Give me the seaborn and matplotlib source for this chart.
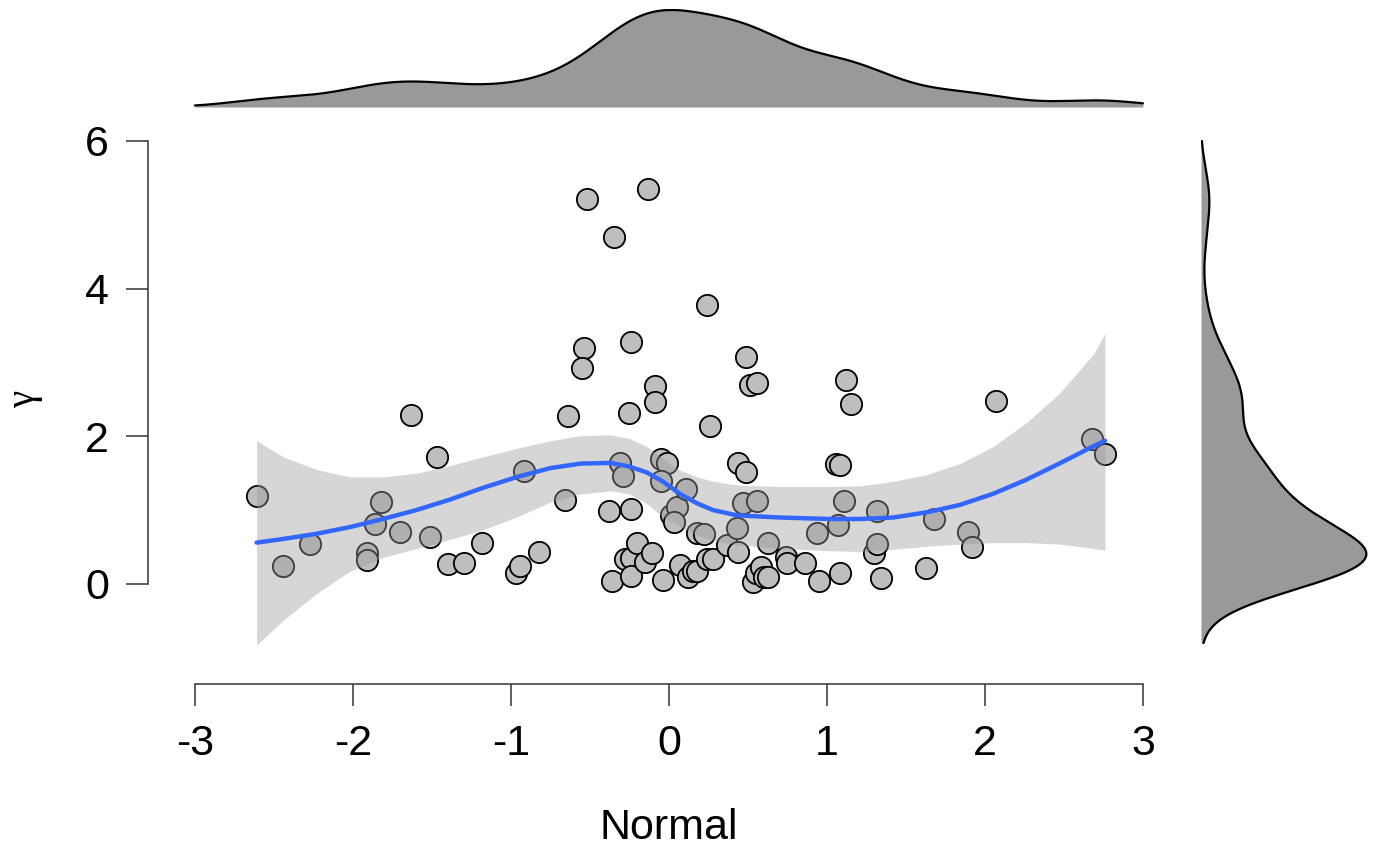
import numpy as np
import pandas as pd
import matplotlib
matplotlib.use("Agg")
import matplotlib.pyplot as plt
import seaborn as sns

# scatter points
normal = [-2.61, -2.44, -2.27, -1.86, -1.82, -1.91, -1.91, -1.70, -1.63, -1.51,
          -1.47, -1.40, -1.30, -1.18, -0.97, -0.94, -0.92, -0.82, -0.66, -0.64,
          -0.52, -0.54, -0.55, -0.35, -0.13, -0.24, -0.38, -0.31, -0.29, -0.25,
          -0.24, -0.36, -0.28, -0.24, -0.24, -0.20, -0.15, -0.11, -0.09, -0.09,
          -0.05, -0.01, -0.05, 0.01, 0.05, 0.03, -0.04, 0.07, 0.11, 0.12,
          0.15, 0.18, 0.18, 0.22, 0.24, 0.26, 0.24, 0.28, 0.37, 0.43,
          0.44, 0.44, 0.49, 0.47, 0.56, 0.49, 0.51, 0.56, 0.53, 0.55,
          0.58, 0.60, 0.63, 0.63, 0.74, 0.75, 0.86, 0.94, 0.95, 1.06,
          1.08, 1.07, 1.08, 1.11, 1.12, 1.15, 1.30, 1.32, 1.32, 1.34,
          1.63, 1.68, 1.89, 1.92, 2.07, 2.68, 2.76]
gamma = [1.19, 0.24, 0.54, 0.81, 1.11, 0.42, 0.33, 0.70, 2.29, 0.63,
         1.72, 0.27, 0.28, 0.56, 0.15, 0.24, 1.53, 0.43, 1.14, 2.28,
         5.21, 3.20, 2.93, 4.70, 5.35, 3.28, 0.99, 1.64, 1.46, 2.31,
         1.02, 0.04, 0.34, 0.35, 0.11, 0.56, 0.30, 0.42, 2.68, 2.46,
         1.69, 1.64, 1.40, 0.93, 1.04, 0.84, 0.06, 0.26, 1.29, 0.10,
         0.17, 0.17, 0.69, 0.67, 3.78, 2.14, 0.34, 0.34, 0.53, 0.76,
         0.43, 1.64, 1.51, 1.10, 1.12, 3.07, 2.69, 2.72, 0.03, 0.15,
         0.23, 0.09, 0.10, 0.56, 0.36, 0.29, 0.29, 0.69, 0.04, 1.63,
         1.61, 0.80, 0.15, 1.13, 2.76, 2.44, 0.42, 0.99, 0.54, 0.08,
         0.22, 0.88, 0.71, 0.50, 2.48, 1.96, 1.76]

# smooth fit and its confidence band
fit_x = [-2.61, -2.44, -2.23, -2.02, -1.81, -1.60, -1.39, -1.18, -0.96, -0.75,
         -0.56, -0.37, -0.25, -0.14, -0.04, 0.07, 0.18, 0.28, 0.43, 0.70,
         1.02, 1.21, 1.42, 1.63, 1.84, 2.05, 2.26, 2.47, 2.69, 2.76]
fit_y = [0.56, 0.61, 0.68, 0.77, 0.88, 1.00, 1.14, 1.30, 1.45, 1.57,
         1.63, 1.64, 1.59, 1.51, 1.39, 1.22, 1.09, 1.00, 0.93, 0.90,
         0.88, 0.88, 0.90, 0.97, 1.07, 1.22, 1.41, 1.63, 1.87, 1.94]
fit_lo = [-0.83, -0.49, -0.13, 0.17, 0.36, 0.48, 0.60, 0.73, 0.91, 1.11,
          1.22, 1.26, 1.22, 1.09, 0.91, 0.78, 0.66, 0.59, 0.53, 0.48,
          0.45, 0.44, 0.47, 0.51, 0.54, 0.56, 0.56, 0.54, 0.48, 0.46]
fit_hi = [1.94, 1.72, 1.55, 1.45, 1.45, 1.50, 1.60, 1.72, 1.84, 1.94,
          2.01, 2.02, 1.97, 1.86, 1.70, 1.54, 1.45, 1.39, 1.34, 1.32,
          1.32, 1.33, 1.39, 1.48, 1.63, 1.86, 2.18, 2.58, 3.12, 3.40]

x_ticks = [-3, -2, -1, 0, 1, 2, 3]
y_ticks = [0, 2, 4, 6]

df = pd.DataFrame({"Normal": normal, "gamma": gamma})
fit = pd.DataFrame({"x": fit_x, "y": fit_y, "lo": fit_lo, "hi": fit_hi})

sns.set_style("white")
plt.rcParams["font.family"] = ["Liberation Sans", "DejaVu Sans"]

W, H = 1400, 866
fig = plt.figure(figsize=(14, 8.66), dpi=100)


def px_axes(left, top, right, bottom):
    return fig.add_axes([left / W, 1 - bottom / H, (right - left) / W, (bottom - top) / H])


ax = px_axes(148, 137.3, 1151, 684)
ax_top = px_axes(148, 9, 1151, 107)
ax_right = px_axes(1201, 137.3, 1368, 684)

xlim = (-3.297, 3.051)
ylim = (-1.355, 6.05)

sns.scatterplot(data=df, x="Normal", y="gamma", ax=ax, s=235, color="#bebebe",
                edgecolor="black", linewidth=1.3, zorder=2)
ax.fill_between(fit["x"], fit["lo"], fit["hi"], color="#999999", alpha=0.4,
                linewidth=0, zorder=3)
sns.lineplot(data=fit, x="x", y="y", ax=ax, color="#3366FF", linewidth=3.2, zorder=4)

ax.set_xlim(xlim)
ax.set_ylim(ylim)
ax.set_xticks(x_ticks)
ax.set_yticks(y_ticks)
ax.set_xticklabels([str(t) for t in x_ticks])
ax.set_yticklabels([str(t) for t in y_ticks])
sns.despine(ax=ax)
ax.spines["bottom"].set_bounds(-3, 3)
ax.spines["left"].set_bounds(0, 6)
for sp in ["bottom", "left"]:
    ax.spines[sp].set_color("#333333")
    ax.spines[sp].set_linewidth(1.1)
ax.tick_params(axis="both", bottom=True, left=True, length=16, width=1.1,
               color="#333333", labelsize=31, labelcolor="black")
ax.tick_params(axis="x", pad=13)
ax.tick_params(axis="y", pad=12)

ax.set_xlabel("Normal", fontsize=31, color="black")
ax.xaxis.set_label_coords((669 - 148) / 1003, -0.226)
ax.set_ylabel("γ", fontsize=28, color="black", family=["Liberation Serif", "DejaVu Serif"])
ax.yaxis.set_label_coords(-0.105, 0.52)


def nrd0_adjust(v):
    v = np.asarray(v)
    sd = v.std(ddof=1)
    iqr = np.subtract(*np.percentile(v, [75, 25]))
    return 0.9 * min(sd, iqr / 1.34) / sd


bw_x = nrd0_adjust(normal)
bw_y = nrd0_adjust(gamma)

sns.kdeplot(data=df, x="Normal", ax=ax_top, fill=True, color="#999999", alpha=1,
            linewidth=0, bw_adjust=bw_x, cut=10, clip=(-3, 3), gridsize=500)
sns.kdeplot(data=df, x="Normal", ax=ax_top, color="black", linewidth=1.6,
            bw_adjust=bw_x, cut=10, clip=(-3, 3), gridsize=500)
ymax = ax_top.lines[0].get_ydata().max()
ax_top.set_xlim(xlim)
ax_top.set_ylim(0, ymax * 1.01)
ax_top.axis("off")

sns.kdeplot(data=df, y="gamma", ax=ax_right, fill=True, color="#999999", alpha=1,
            linewidth=0, bw_adjust=bw_y, cut=10, clip=(-0.8, 6), gridsize=500)
sns.kdeplot(data=df, y="gamma", ax=ax_right, color="black", linewidth=1.6,
            bw_adjust=bw_y, cut=10, clip=(-0.8, 6), gridsize=500)
xmax = ax_right.lines[0].get_xdata().max()
ax_right.set_ylim(ylim)
ax_right.set_xlim(0, xmax * 1.01)
ax_right.axis("off")

fig.savefig("out.png", dpi=100)
